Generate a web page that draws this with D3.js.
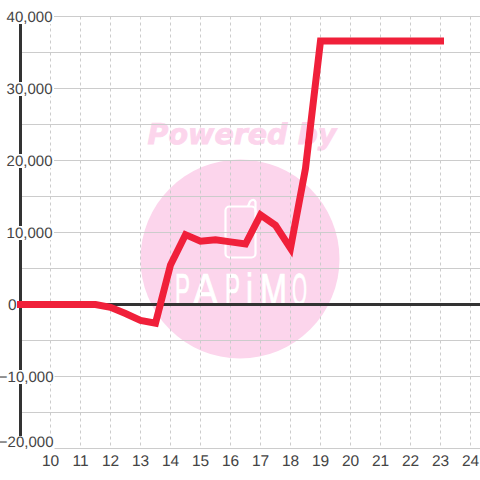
<!DOCTYPE html>
<html>
<head>
<meta charset="utf-8">
<style>html,body{margin:0;padding:0;background:#fff}svg{display:block}text{font-family:"Liberation Sans",sans-serif;text-rendering:geometricPrecision}</style>
<script src="https://cdn.jsdelivr.net/npm/d3@7"></script>
</head>
<body>
<svg id="c" width="480" height="480"></svg>
<script>
const xValues = [9,9.5,10,10.5,11,11.5,12,12.5,13,13.5,14,14.5,15,15.5,16,16.5,17,17.5,18,18.5,19,23];
const yValues = [0,0,0,0,0,0,-400,-1250,-2200,-2600,5500,9700,8800,9000,8700,8400,12450,11000,7800,18900,36600,36600];
const xTicks = d3.range(10,25);
const yGridTicks = d3.range(-20000,40001,5000);
const yLabelTicks = [40000,30000,20000,10000,0,-10000,-20000];
const watermarkTop = "Powered by";
const brandLetters = ["P","A","P","i","M","O"];
const brandLeft = [175,193,225,246,260,292];
const brandWidth = [15,25,15,7,27,15];

const svg = d3.select("#c");
const x = d3.scaleLinear().domain([9,24]).range([20.5,470.5]);
const y = d3.scaleLinear().domain([-20000,40000]).range([448.5,16.5]);
const fmt = d3.format(",");

// watermark
const wm = svg.append("g");
wm.append("circle").attr("cx",240).attr("cy",259).attr("r",99.5).attr("fill","#fcd5ec");
wm.append("text").attr("x",242).attr("y",144).attr("text-anchor","middle")
  .attr("font-size",28.5).attr("font-weight","bold").attr("font-style","italic")
  .style("font-family","'DejaVu Sans',sans-serif").attr("fill","#fcd5ec")
  .attr("stroke","#fcd5ec").attr("stroke-width",0.8).text(watermarkTop);
wm.append("rect").attr("x",225.5).attr("y",206.5).attr("width",30).attr("height",51).attr("rx",4)
  .attr("fill","none").attr("stroke","#fff").attr("stroke-width",2.2);
wm.append("path").attr("d","M248 206.500 L250 201.500 Q254 198 255.500 202 L255.500 212")
  .attr("fill","none").attr("stroke","#fff").attr("stroke-width",2.2);
wm.append("g").selectAll("text").data(brandLetters).join("text")
  .attr("font-size",45).attr("fill","#fff").attr("stroke","#fff").attr("stroke-width",0.8).text(d=>d)
  .attr("transform",function(d,i){
    const w = this.getComputedTextLength();
    return `translate(${brandLeft[i]},305) scale(${brandWidth[i]/w},1)`;
  });

// grid
svg.append("g").selectAll("line").data(yGridTicks).join("line")
  .attr("x1",20).attr("x2",480).attr("y1",d=>y(d)).attr("y2",d=>y(d))
  .attr("stroke","#ccc").attr("stroke-width",1);
svg.append("g").selectAll("line").data(xTicks).join("line")
  .attr("x1",d=>x(d)).attr("x2",d=>x(d)).attr("y1",y(40000)).attr("y2",y(-20000))
  .attr("stroke","#ccc").attr("stroke-width",1).attr("stroke-dasharray","3 3");

// axes
svg.append("line").attr("x1",20.5).attr("x2",20.5).attr("y1",y(40000)).attr("y2",y(-20000))
  .attr("stroke","#333").attr("stroke-width",3);
svg.append("line").attr("x1",20).attr("x2",480).attr("y1",y(0)).attr("y2",y(0))
  .attr("stroke","#333").attr("stroke-width",3);

// y labels with white plates
const plated = yLabelTicks.filter(d=>d!==0);
const yl = svg.append("g").selectAll("g").data(plated).join("g")
  .attr("transform",d=>`translate(${d<0?53.5:52.5},${y(d)+(d===-20000?-7:0)})`);
yl.append("rect").attr("x",d=>d<0?-53.5:-47).attr("y",d=>d===-20000?-5.5:-6.5).attr("height",14)
  .attr("width",d=>d<0?54.5:48.5).attr("fill","#fff");
yl.append("text").attr("text-anchor","end").attr("y",5.5).attr("font-size",15).attr("fill","#444").text(d=>fmt(d));
svg.append("text").attr("x",16.5).attr("y",y(0)+5.5).attr("text-anchor","end").attr("font-size",15.5).attr("fill","#444").text(fmt(0));

// x labels
svg.append("g").selectAll("text").data(xTicks).join("text")
  .attr("x",d=>x(d)).attr("y",466).attr("text-anchor","middle").attr("font-size",15.5).attr("fill","#444").text(d=>d);

// series
const pts = xValues.map((v,i)=>[v,yValues[i]]);
svg.append("path").datum(pts).attr("fill","none").attr("stroke","#f0203a").attr("stroke-width",7)
  .attr("stroke-linecap","square").attr("stroke-linejoin","miter")
  .attr("d",d3.line().x(d=>x(d[0])).y(d=>y(d[1])));
</script>
</body>
</html>
